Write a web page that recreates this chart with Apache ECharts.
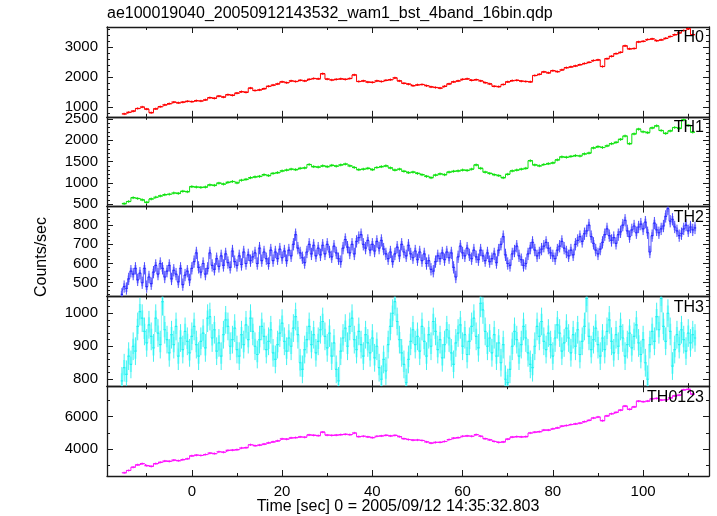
<!DOCTYPE html>
<html><head><meta charset="utf-8">
<script src="https://cdn.jsdelivr.net/npm/echarts@6/dist/echarts.min.js"></script>
<style>html,body{margin:0;padding:0;background:#fff}#c{width:717px;height:516px}</style>
</head><body><div id="c"></div>
<script>
// ---------- data ----------
const title = "ae100019040_20050912143532_wam1_bst_4band_16bin.qdp";
const bandNames = ["TH0", "TH1", "TH2", "TH3", "TH0123"];
const xName = "Time [sec] 0 = 2005/09/12 14:35:32.803";
const yName = "Counts/sec";
const xRange = [-18.8, 114.6];
const xMajorTicks = [0, 20, 40, 60, 80, 100];
const xMinorTicks = [-10, 10, 30, 50, 70, 90, 110];

// 1 s bins, centres from -15 s
const start1 = -15, bin1 = 1;
// 0.5 s bins, centres from -15.5 s
const start05 = -15.5, bin05 = 0.5;

const th0 = [780,830,870,960,1010,940,820,950,1020,1080,1120,1170,1150,1170,1200,1190,1220,1210,1250,1320,
1300,1370,1340,1420,1400,1470,1520,1500,1640,1560,1580,1620,1700,1740,1780,1850,1820,1880,1860,1900,
1880,1930,1960,1950,2120,1940,1910,1930,1950,1930,1960,2080,1860,1880,1840,1830,1880,1860,1900,1920,
1980,1880,1800,1770,1720,1750,1760,1720,1680,1660,1640,1700,1780,1850,1880,1930,1950,1900,1920,1880,
1820,1780,1700,1690,1760,1850,1890,1900,1870,1860,1850,2060,2100,2180,2150,2220,2190,2250,2320,2350,
2380,2420,2460,2500,2560,2580,2360,2620,2700,2790,2830,3050,2950,2960,3180,3200,3260,3280,3220,3250,
3300,3360,3420,3480,3560,3620,3420];

const th1 = [510,560,650,630,600,540,620,660,690,720,730,760,750,800,790,910,900,890,900,950,
940,990,970,1010,1030,1000,1060,1080,1120,1140,1150,1190,1170,1220,1240,1280,1300,1320,1310,1340,
1350,1430,1380,1370,1400,1380,1410,1390,1420,1440,1400,1360,1310,1320,1340,1310,1360,1380,1400,1350,
1300,1320,1270,1240,1250,1220,1190,1150,1120,1180,1210,1190,1250,1270,1280,1300,1290,1320,1420,1340,
1250,1220,1190,1170,1120,1200,1280,1300,1320,1340,1520,1420,1400,1430,1450,1470,1540,1610,1600,1620,
1640,1630,1680,1700,1820,1850,1830,1870,1920,1950,2020,2100,1920,2150,2260,2200,2180,2290,2340,2230,
2160,2220,2300,2280,2480,2350,2190];

const th2 = [440,480,470,520,560,545,575,515,550,500,
575,480,530,495,555,590,545,600,575,530,
560,590,520,565,545,505,575,490,540,560,
515,575,610,655,580,555,600,545,575,655,
590,570,625,585,640,590,650,605,580,665,
610,590,640,595,660,600,645,615,635,655,
600,680,615,660,625,600,670,615,660,625,
675,630,665,615,670,640,700,750,680,655,
630,605,660,700,650,695,640,680,645,695,
650,700,660,635,690,655,625,610,680,725,
685,655,700,650,715,735,750,700,680,720,
670,700,665,715,680,720,675,650,625,660,
610,650,685,640,700,660,640,695,650,630,
665,620,660,615,650,600,615,570,560,610,
640,625,655,620,660,630,655,580,530,635,
690,655,640,680,645,625,670,635,620,670,
640,615,655,610,625,650,605,670,700,740,
645,600,590,650,665,690,640,620,590,600,
650,680,710,670,640,655,675,690,710,680,
655,640,625,670,690,715,680,660,640,670,
645,700,720,740,715,755,770,800,740,705,
670,650,675,710,750,780,745,720,735,705,
750,765,800,825,770,740,775,795,760,790,
805,780,815,760,660,745,810,775,760,780,
795,845,885,820,830,790,770,745,755,780,
800,770,790,775,785];

const th3 = [795,835,815,870,845,900,885,960,1005,985,
945,910,965,930,895,985,940,905,1035,950,
920,880,935,905,960,870,925,890,945,915,
880,930,960,905,870,915,940,895,985,990,
925,950,885,910,870,935,980,960,900,920,
955,890,870,935,905,965,920,985,945,900,
875,920,960,930,890,915,950,880,860,905,
940,970,915,885,925,900,955,990,935,850,
830,890,920,960,905,935,880,915,950,975,
930,895,940,870,910,830,795,885,925,955,
900,960,985,920,890,945,905,870,935,910,
880,925,865,900,835,800,860,825,905,960,
1000,1035,975,920,880,845,790,860,915,950,
905,930,885,960,915,870,935,900,975,945,
890,920,865,905,950,925,880,845,910,940,
965,900,935,875,915,960,985,930,895,1030,
1010,945,900,925,880,935,870,910,850,905,
800,790,830,900,945,920,870,905,960,925,
880,845,835,900,960,930,975,915,890,940,
905,870,925,965,940,885,910,955,925,880,
935,900,950,875,915,960,1045,930,890,920,
955,905,870,925,890,945,980,915,880,935,
900,960,925,870,905,940,895,930,965,910,
875,920,850,800,905,945,915,990,950,1045,
960,915,1000,945,840,890,935,905,950,920,
885,940,910,935,925];

const th0123 = [2560,2700,2900,3050,3120,3000,2950,3120,3200,3280,3260,3330,3300,3370,3420,3600,3640,3620,3680,3760,
3740,3850,3820,3930,3950,3980,4080,4100,4280,4220,4260,4320,4400,4460,4520,4640,4620,4700,4720,4760,
4740,4880,4860,4840,5050,4870,4850,4870,4900,4920,4900,5000,4780,4800,4760,4720,4800,4820,4860,4820,
4850,4780,4650,4600,4560,4570,4540,4450,4380,4420,4430,4480,4600,4680,4720,4800,4820,4800,4900,4800,
4650,4580,4480,4420,4450,4620,4750,4780,4760,4780,5000,5050,5080,5180,5180,5260,5320,5420,5460,5520,
5560,5600,5700,5780,5920,5980,5760,6050,6180,6260,6400,6650,6450,6600,6950,6920,6960,7100,7120,7020,
7040,7150,7280,7320,7650,7680,7380];

// estimated 1-sigma error bar half heights (counts/sec)
const errs = [40, 34, 32, 42, 70];

// y ranges and tick labels
const yRanges = [[683, 3677], [440, 2552], [429, 896], [779, 1051], [2362, 7871]];
const yMajorTicks = [[1000, 2000, 3000], [500, 1000, 1500, 2000, 2500], [500, 600, 700, 800], [800, 900, 1000], [4000, 6000]];
const yMinorSteps = [200, 100, 20, 20, 1000];

// ---------- build ----------
const series = [
  {vals: th0, start: start1, bin: bin1, connectAlpha: 1, color: '#ff0000', light: 'rgba(255,110,110,0.7)'},
  {vals: th1, start: start1, bin: bin1, connectAlpha: 1, color: '#10e010', light: 'rgba(120,255,120,0.7)'},
  {vals: th2, start: start05, bin: bin05, connectAlpha: 0.8, color: '#2a2aff', light: 'rgba(140,140,255,0.8)'},
  {vals: th3, start: start05, bin: bin05, connectAlpha: 0.5, color: '#22f0f0', light: 'rgba(130,255,255,0.8)'},
  {vals: th0123, start: start1, bin: bin1, connectAlpha: 1, color: '#ff10ff', light: 'rgba(255,130,255,0.7)'}
];

const W = 717, H = 516;
const gLeft = 107, gRight = 8, gTop = 27, gBottom = 476;
const gH = (gBottom - gTop) / 5;
const FONT = 'Liberation Sans, Arial, Helvetica, sans-serif';
const AX = '#1a1a1a';

function minorTicks(range, step, majors) {
  const out = [];
  const s = Math.ceil(range[0] / step) * step;
  for (let v = s; v <= range[1] + 1e-9; v += step) {
    if (!majors.some(m => Math.abs(m - v) < 1e-6)) out.push(Math.round(v * 1000) / 1000);
  }
  return out;
}
const plain = v => String(v);

const grids = [], xAxes = [], yAxes = [], ser = [], graphics = [];
for (let i = 0; i < 5; i++) {
  const top = gTop + i * gH;
  grids.push({left: gLeft, right: gRight, top: top, height: gH});
  const isLast = i === 4;
  const xBase = {type: 'value', gridIndex: i, min: xRange[0], max: xRange[1], splitLine: {show: false}};
  const xMajorIdx = xAxes.length;
  ['bottom', 'top'].forEach(pos => {
    xAxes.push(Object.assign({}, xBase, {
      position: pos,
      axisLine: {show: true, onZero: false, lineStyle: {color: AX, width: 1.3}},
      axisTick: {show: true, inside: true, length: 6, customValues: xMajorTicks, lineStyle: {color: AX, width: 1}},
      axisLabel: {show: isLast && pos === 'bottom', customValues: xMajorTicks, formatter: plain, color: '#000', fontSize: 15, fontFamily: FONT, margin: 8}
    }));
    xAxes.push(Object.assign({}, xBase, {
      position: pos,
      axisLine: {show: false, onZero: false},
      axisTick: {show: true, inside: true, length: 3, customValues: xMinorTicks, lineStyle: {color: AX, width: 1}},
      axisLabel: {show: false}
    }));
  });
  const yr = yRanges[i];
  const yMin = minorTicks(yr, yMinorSteps[i], yMajorTicks[i]);
  const yBase = {type: 'value', gridIndex: i, min: yr[0], max: yr[1], splitLine: {show: false}};
  const yMajorIdx = yAxes.length;
  ['left', 'right'].forEach(pos => {
    yAxes.push(Object.assign({}, yBase, {
      position: pos,
      axisLine: {show: true, onZero: false, lineStyle: {color: AX, width: 1.3}},
      axisTick: {show: true, inside: true, length: 6, customValues: yMajorTicks[i], lineStyle: {color: AX, width: 1}},
      axisLabel: {show: pos === 'left', customValues: yMajorTicks[i], formatter: plain, color: '#000', fontSize: 15, fontFamily: FONT, margin: 9}
    }));
    yAxes.push(Object.assign({}, yBase, {
      position: pos,
      axisLine: {show: false, onZero: false},
      axisTick: {show: true, inside: true, length: 3, customValues: yMin, lineStyle: {color: AX, width: 1}},
      axisLabel: {show: false}
    }));
  });

  const s = series[i];
  const err = errs[i];
  const half = s.bin / 2;
  const data = s.vals.map((v, k) => [s.start + k * s.bin, v]);
  ser.push({
    type: 'custom', xAxisIndex: xMajorIdx, yAxisIndex: yMajorIdx, clip: true, silent: true,
    data: data,
    renderItem: function (params, api) {
      const t = api.value(0), v = api.value(1);
      const a = api.coord([t - half, v]);
      const b = api.coord([t + half, v]);
      const et = api.coord([t, v + err]);
      const eb = api.coord([t, v - err]);
      const bt = api.coord([t, v + err * 0.55]);
      const bb = api.coord([t, v - err * 0.55]);
      const cs = params.coordSys;
      return {
        type: 'group',
        clipPath: {type: 'rect', shape: {x: cs.x, y: cs.y, width: cs.width, height: cs.height}},
        children: [
          {type: 'rect', shape: {x: a[0], y: bt[1], width: b[0] - a[0], height: bb[1] - bt[1]}, style: {fill: s.light}},
          {type: 'line', shape: {x1: et[0], y1: et[1], x2: eb[0], y2: eb[1]}, style: {stroke: s.color, lineWidth: 1, opacity: 0.85}},
          {type: 'line', shape: {x1: a[0], y1: a[1], x2: b[0], y2: b[1]}, style: {stroke: s.color, lineWidth: 1.2}}
        ]
      };
    }
  });
  ser.push({
    type: 'line', xAxisIndex: xMajorIdx, yAxisIndex: yMajorIdx, step: 'middle', showSymbol: false,
    silent: true, clip: true, data: data, z: 1,
    lineStyle: {color: s.color, width: 1, opacity: s.connectAlpha}
  });

  graphics.push({
    type: 'text', right: 13, top: top + 3, z: 100,
    style: {text: bandNames[i], fill: '#000', font: '16px ' + FONT, textAlign: 'right'}
  });
}

graphics.push({type: 'text', left: 107, top: 6, style: {text: title, fill: '#000', font: '16px ' + FONT}});
graphics.push({type: 'text', x: 42, y: 257, rotation: Math.PI / 2,
  style: {text: yName, fill: '#000', font: '16px ' + FONT, textAlign: 'center', textVerticalAlign: 'middle'}});
graphics.push({type: 'text', x: 398, y: 507,
  style: {text: xName, fill: '#000', font: '16px ' + FONT, textAlign: 'center', textVerticalAlign: 'middle'}});

const chart = echarts.init(document.getElementById('c'), null, {renderer: 'canvas', width: W, height: H});
chart.setOption({
  animation: false,
  backgroundColor: '#fff',
  grid: grids,
  xAxis: xAxes,
  yAxis: yAxes,
  series: ser,
  graphic: graphics
});
</script></body></html>
